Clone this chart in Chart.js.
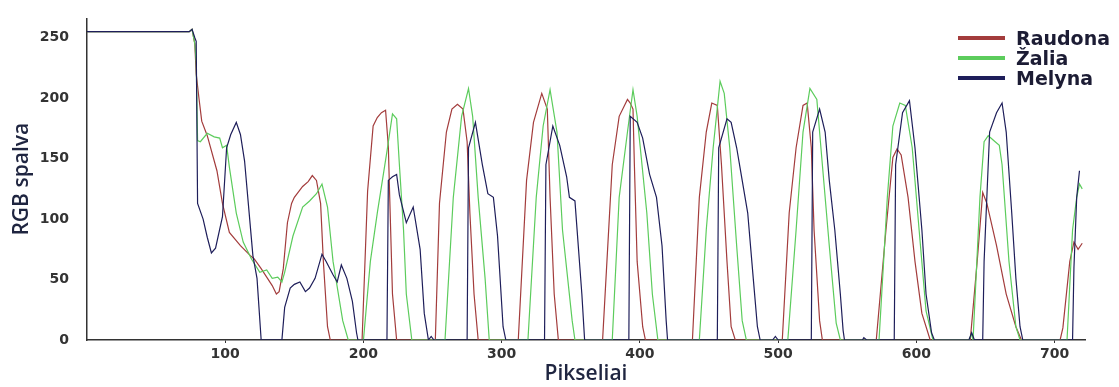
<!DOCTYPE html>
<html lang="lt">
<head>
<meta charset="utf-8">
<script src="https://cdn.jsdelivr.net/npm/chart.js@4/dist/chart.umd.min.js"></script>
<style>
  html, body { margin: 0; padding: 0; background: #fff; }
  #wrap { position: relative; width: 1119px; height: 387px; }
  #legend { position: absolute; left: 958px; top: 28px; }
  .item { display: flex; align-items: center; height: 20px; }
  .swatch { width: 47px; height: 4px; margin-right: 11px; }
  .label { font: bold 19px "DejaVu Sans", sans-serif; color: #1c1c34; line-height: 20px; }
</style>
</head>
<body>
<div id="wrap">
  <canvas id="chart" width="1119" height="387"></canvas>
  <div id="legend"></div>
</div>
<script>
/* ----------------------------- */
/* DATA                          */
/* ----------------------------- */
const seriesNames = ["Raudona", "Žalia", "Melyna"];
const seriesColors = ["#a33c3c", "#5ccc5c", "#1e1e5a"];

// [pikselis, spalvos reikšmė]
const raudona = [
  [0,255],[74,255],[76,257],[78,245],[79,220],[81,200],[83,181],[87,169],[94,140],[98,113],[103,89],[111,78],[118,70],[121,67],[126,59],[130,52],[134,45],[137,38],[139,40],[142,59],[145,97],[148,113],[150,118],[156,127],[160,131],[163,136],[166,132],[169,113],[171,65],[174,11],[176,0],
  [199,0],[203,123],[207,177],[210,184],[213,188],[216,190],[218,160],[219,118],[221,38],[224,0],
  [252,0],[255,113],[260,172],[264,191],[268,195],[272,191],[275,164],[277,105],[280,38],[283,0],
  [312,0],[318,132],[323,180],[329,204],[333,191],[335,118],[338,38],[341,0],
  [373,0],[380,145],[385,185],[391,199],[393,196],[395,191],[396,145],[398,65],[402,11],[404,0],
  [438,0],[443,118],[448,172],[452,196],[456,194],[459,145],[463,65],[466,11],[469,0],
  [503,0],[508,105],[513,159],[518,194],[521,196],[524,159],[526,91],[530,16],[532,0],
  [571,0],[578,91],[583,151],[586,158],[589,153],[594,118],[599,65],[604,22],[610,0],
  [639,0],[644,65],[648,122],[651,113],[658,78],[665,38],[672,11],[676,0],
  [704,0],[706,10],[711,65],[714,81],[717,75],[720,80],
];
const zalia = [
  [0,255],[74,255],[76,257],[78,245],[79,230],[80,165],[82,164],[87,171],[92,168],[96,167],[98,159],[101,161],[103,143],[108,105],[113,81],[119,67],[125,56],[130,58],[134,51],[138,52],[141,48],[143,56],[149,86],[156,110],[161,115],[166,121],[170,129],[174,110],[178,65],[185,16],[189,0],
  [200,0],[205,65],[210,105],[217,156],[221,187],[224,183],[226,145],[229,91],[231,38],[235,0],
  [259,0],[265,118],[271,185],[276,208],[279,185],[283,118],[288,51],[291,0],
  [319,0],[325,118],[330,177],[335,207],[340,172],[344,91],[351,16],[353,0],
  [380,0],[385,118],[391,172],[395,207],[398,185],[405,105],[409,38],[413,0],
  [443,0],[448,91],[453,159],[458,214],[461,204],[465,159],[470,78],[474,16],[477,0],
  [507,0],[513,91],[518,172],[523,208],[528,199],[532,145],[537,78],[542,14],[545,0],
  [573,0],[579,118],[583,177],[588,196],[592,194],[597,159],[602,91],[607,24],[612,0],
  [638,0],[640,5],[641,0],[646,118],[649,164],[652,169],[657,164],[660,161],[662,145],[667,65],[672,11],[675,0],
  [709,0],[713,91],[716,118],[718,129],[720,125],
];
const melyna = [
  [0,255],[74,255],[76,257],[78,250],[79,247],[80,113],[84,100],[87,85],[90,72],[93,76],[98,102],[101,159],[104,170],[108,180],[111,170],[114,148],[120,70],[123,51],[126,0],
  [141,0],[143,27],[147,43],[150,46],[154,48],[158,40],[161,43],[165,51],[170,71],[173,65],[178,54],[181,48],[184,62],[188,51],[192,32],[195,6],[196,0],
  [217,0],[218,132],[221,135],[224,137],[226,120],[231,97],[236,110],[241,75],[244,22],[247,0],[249,3],[251,0],
  [275,0],[276,159],[281,180],[286,145],[290,121],[294,118],[297,86],[301,11],[303,0],
  [331,0],[332,145],[337,177],[342,161],[347,135],[349,118],[353,115],[358,38],[360,0],
  [392,0],[393,185],[398,180],[402,167],[407,137],[412,118],[416,78],[419,16],[420,0],
  [456,0],[457,159],[463,183],[466,180],[470,159],[474,132],[478,105],[482,51],[485,11],[487,0],
  [496,0],[498,3],[500,0],
  [524,0],[525,172],[530,191],[534,172],[537,132],[541,91],[545,38],[547,8],[548,0],
  [561,0],[562,2],[564,0],
  [584,0],[585,145],[590,188],[595,198],[599,159],[604,91],[607,38],[611,6],[613,0],
  [638,0],[640,6],[642,0],[648,0],[649,65],[653,172],[658,188],[662,196],[665,172],[669,105],[672,51],[675,11],[677,0],
  [713,0],[714,60],[716,118],[718,140],
];

const xTicks = [100, 200, 300, 400, 500, 600, 700];
const yTicks = [0, 50, 100, 150, 200, 250];

/* ----------------------------- */
/* CHART                         */
/* ----------------------------- */
const toPoints = (pairs) => pairs.map(([x, y]) => ({ x, y }));
const allSeries = [raudona, zalia, melyna];

const datasets = allSeries.map((pairs, i) => ({
  label: seriesNames[i],
  data: toPoints(pairs),
  borderColor: seriesColors[i],
  borderWidth: 1.2,
  pointRadius: 0,
  tension: 0,
  order: 3 - i, // mėlyna piešiama viršuje
}));

const tickFont = { family: "DejaVu Sans", size: 14, weight: "bold" };
const titleFont = { family: "Open Sans", size: 21, weight: "600" };

new Chart(document.getElementById("chart"), {
  type: "line",
  data: { datasets },
  options: {
    responsive: false,
    animation: false,
    layout: { padding: { top: 10, right: 34, left: 0, bottom: 0 } },
    plugins: { legend: { display: false }, tooltip: { enabled: false } },
    scales: {
      x: {
        type: "linear",
        min: 0,
        max: 722,
        afterBuildTicks: (axis) => { axis.ticks = xTicks.map((value) => ({ value })); },
        afterFit: (axis) => { axis.height = 47; },
        ticks: { font: tickFont, color: "#333", padding: 3, maxRotation: 0 },
        grid: { display: true, drawOnChartArea: false, tickLength: 3, color: "#333" },
        border: { color: "#333", width: 1.5 },
        title: { display: true, text: "Pikseliai", font: titleFont, color: "#1f2540", padding: { top: 0, bottom: 0 } },
      },
      y: {
        min: 0,
        max: 266,
        afterBuildTicks: (axis) => { axis.ticks = yTicks.map((value) => ({ value })); },
        afterFit: (axis) => { axis.width = 87; },
        ticks: { font: tickFont, color: "#333", padding: 10 },
        grid: { display: false },
        border: { color: "#333", width: 1.5 },
        title: { display: true, text: "RGB spalva", font: titleFont, color: "#1f2540", padding: { top: 9, bottom: 0 } },
      },
    },
  },
});

/* ----------------------------- */
/* LEGEND                        */
/* ----------------------------- */
const legend = document.getElementById("legend");
seriesNames.forEach((name, i) => {
  const item = document.createElement("div");
  item.className = "item";
  item.innerHTML = `<span class="swatch" style="background:${seriesColors[i]}"></span><span class="label">${name}</span>`;
  legend.appendChild(item);
});
</script>
</body>
</html>
